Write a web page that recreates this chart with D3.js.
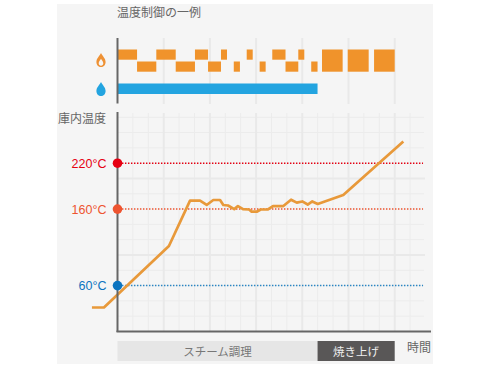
<!DOCTYPE html>
<html lang="ja"><head><meta charset="utf-8">
<script src="https://cdnjs.cloudflare.com/ajax/libs/d3/7.8.5/d3.min.js"></script>
<style>html,body{margin:0;padding:0;background:#fff}svg{display:block}text{font-family:"Noto Sans CJK JP","Noto Sans",sans-serif}</style>
</head><body><svg id="c" width="490" height="368"></svg>
<script>
// Time in grid units, temperature in degrees C
const tempTimes = [-1.66,-0.88,3.34,4.71,5.36,5.79,6.22,6.66,6.87,7.18,7.58,7.82,8.15,8.54,8.71,9.04,9.30,9.77,10.10,10.77,11.27,11.64,12.0,12.35,12.65,13.0,14.66,18.56];
const tempValues = [31.4,31.4,111.8,171,171,165.4,171.9,171.9,165.4,164.7,160,164,160,159.5,156.6,156.6,159.5,159.5,164,164,172.3,168.4,170,166,170,166.7,178.4,248.4];
const heatUpper = [[0,1.27],[2.52,3.78],[5.03,5.88],[6.72,7.11],[8.39,8.78],[10.05,10.91],[11.74,12.13]];
const heatLower = [[1.27,2.52],[3.78,5.03],[5.88,6.72],[7.55,7.95],[9.23,9.62],[10.91,11.74],[12.58,12.99]];
const heatFull = [[13.28,14.62],[14.95,16.31],[16.66,18.0]];
const steam = [[0,12.99]];
const refTemps = [220,160,60];
const refLabels = ["220°C","160°C","60°C"];
const refColors = ["#e60012","#ee5430","#0b74c0"];
const phases = ["スチーム調理","焼き上げ"];
const phaseSpans = [[0,12.99],[12.99,18]];
const phaseFill = ["#e6e6e6","#595757"];
const phaseInk = ["#777","#eee"];

const svg = d3.select("#c");
const x = d3.scaleLinear().domain([0,1]).range([117.5,132.9]);
const y = d3.scaleLinear().domain([0,100]).range([331.5,255]);
const grid = "#ececec", major = "#e9e9e9";

svg.append("rect").attr("x",57).attr("y",4).attr("width",376).attr("height",360).attr("fill","#f5f5f5");

const g = svg.append("g");
// minor grid
g.selectAll(".vm").data(d3.range(1,20).filter(d=>d%3)).join("line")
 .attr("x1",x).attr("x2",x).attr("y1",113).attr("y2",331).attr("stroke",grid).attr("stroke-width",1);
g.selectAll(".hm").data(d3.range(20,300,20).filter(d=>d%100)).join("line")
 .attr("x1",118).attr("x2",424).attr("y1",y).attr("y2",y).attr("stroke",grid).attr("stroke-width",1);
// major grid
g.selectAll(".vM").data(d3.range(3,19,3)).join("line")
 .attr("x1",x).attr("x2",x).attr("y1",113).attr("y2",331).attr("stroke",major).attr("stroke-width",2);
g.selectAll(".vT").data(d3.range(3,19,3)).join("line")
 .attr("x1",x).attr("x2",x).attr("y1",38).attr("y2",104).attr("stroke",major).attr("stroke-width",2);
g.selectAll(".hM").data([100,200]).join("line")
 .attr("x1",118).attr("x2",425).attr("y1",y).attr("y2",y).attr("stroke",major).attr("stroke-width",2);

// heating rows
function bars(data, y0, h, fill){
  svg.append("g").selectAll("rect").data(data).join("rect")
    .attr("x",d=>x(d[0])).attr("width",d=>x(d[1])-x(d[0]))
    .attr("y",y0).attr("height",h).attr("fill",fill);
}
bars(heatUpper,49.5,10.2,"#f0932b");
bars(heatLower,61.5,10.2,"#f0932b");
bars(heatFull,49.5,22.2,"#f0932b");
bars(steam,83.5,10.5,"#23a4e0");

// reference lines
refTemps.forEach((t,i)=>{
  svg.append("line").attr("x1",122).attr("x2",423).attr("y1",y(t)).attr("y2",y(t))
    .attr("stroke",i===2?"#2a86c4":refColors[i]).attr("stroke-width",1.5).attr("stroke-dasharray","1.4 1.6");
});

// temperature curve
svg.append("path").datum(d3.zip(tempTimes,tempValues))
  .attr("d",d3.line().x(d=>x(d[0])).y(d=>y(d[1])))
  .attr("fill","none").attr("stroke","#e8993a").attr("stroke-width",2.7).attr("stroke-linejoin","round");

// axes
const ax = svg.append("g").attr("stroke","#666").attr("stroke-width",2).attr("fill","none");
ax.append("line").attr("x1",117.5).attr("x2",117.5).attr("y1",38).attr("y2",103.5);
ax.append("line").attr("x1",117.5).attr("x2",117.5).attr("y1",112).attr("y2",332);
ax.append("line").attr("x1",116.5).attr("x2",431).attr("y1",331.5).attr("y2",331.5);

// reference dots and labels
refTemps.forEach((t,i)=>{
  svg.append("circle").attr("cx",117.5).attr("cy",y(t)).attr("r",4.8).attr("fill",refColors[i]);
  svg.append("text").attr("x",106.5).attr("y",y(t)+4.6).attr("text-anchor","end")
    .attr("font-size",12.5).style("font-family","'Liberation Sans',sans-serif").attr("fill",refColors[i]).text(refLabels[i]);
});

// phase band
phases.forEach((p,i)=>{
  const s = phaseSpans[i];
  svg.append("rect").attr("x",x(s[0])).attr("width",x(s[1])-x(s[0])).attr("y",341).attr("height",20).attr("fill",phaseFill[i]);
  svg.append("text").attr("x",(x(s[0])+x(s[1]))/2).attr("y",355.5).attr("text-anchor","middle")
    .attr("font-size",11.5).attr("fill",phaseInk[i]).text(p);
});

// labels
const lab = (t,px,py)=>svg.append("text").attr("x",px).attr("y",py).attr("font-size",12).attr("fill","#666").text(t);
lab("温度制御の一例",117,17);
lab("庫内温度",58,122.5);
lab("時間",407,352);

// icons
const flame = "M0,-7.5 C1.2,-4.5 4.6,-2.5 4.6,1.6 C4.6,4.6 2.5,6.6 0,6.6 C-2.5,6.6 -4.6,4.6 -4.6,1.6 C-4.6,-2.5 -1.2,-4.5 0,-7.5 Z";
svg.append("path").attr("transform","translate(101,60.5)").attr("d",flame).attr("fill","#ee9134");
svg.append("path").attr("transform","translate(101,62.5) scale(0.5)").attr("d",flame).attr("fill","#f5f5f5");
svg.append("path").attr("transform","translate(101,89.5)").attr("d",flame).attr("fill","#23a4e0");
</script></body></html>
